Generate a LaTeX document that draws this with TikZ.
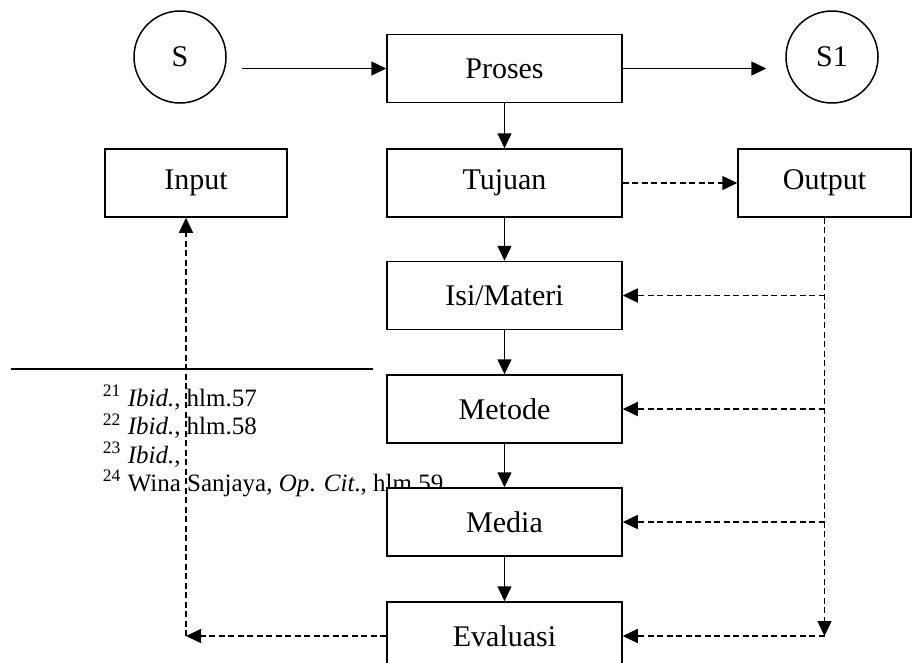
\documentclass[tikz,border=0pt]{standalone}
\usepackage{fontspec}
\setmainfont{Liberation Serif}
\usetikzlibrary{arrows.meta}

\begin{document}
\begin{tikzpicture}[x=0.4pt,y=-0.4pt,line width=0.6pt,
  kotak/.style={draw,fill=white,minimum width=94pt,minimum height=27.2pt,inner sep=0pt,font=\fontsize{12pt}{14pt}\selectfont},
  bulat/.style={draw,circle,minimum size=36.8pt,inner sep=0pt,font=\fontsize{12pt}{14pt}\selectfont},
  panah/.style={-{Triangle[length=6pt,width=5.6pt]}},
  putus/.style={dash pattern=on 2.4pt off 1.4pt},
  catatan/.style={anchor=base west,inner sep=0pt,font=\fontsize{10pt}{12pt}\selectfont}]
\useasboundingbox (0,0) rectangle (913,662);
\clip (0,0) rectangle (913,662);

% catatan kaki
\draw[line width=0.7pt] (11,369) -- (373,369);
\node[catatan] (fn21) at (102,406) {\textsuperscript{21} \textit{Ibid.}, hlm.57};
\node[catatan] (fn22) at (102,434.5) {\textsuperscript{22} \textit{Ibid.}, hlm.58};
\node[catatan] (fn23) at (102,463) {\textsuperscript{23} \textit{Ibid.},};
\node[catatan] (fn24) at (102,491) {\textsuperscript{24} Wina Sanjaya, \textit{Op}. \textit{Cit}., hlm.59};

\node[bulat] (S) at (180,57) {S};
\node[bulat] (S1) at (832,57) {S1};

\node[kotak] (Proses) at (504.5,68.5) {Proses};
\node[kotak] (Tujuan) at (504.5,183) {Tujuan};
\node[kotak] (Isi) at (504.5,295.5) {Isi/Materi};
\node[kotak] (Metode) at (504.5,409) {Metode};
\node[kotak] (Media) at (504.5,522) {Media};
\node[kotak] (Evaluasi) at (504.5,636) {Evaluasi};

\node[kotak,minimum width=72.8pt] (Input) at (196,183) {Input};
\node[kotak,minimum width=69.2pt] (Output) at (824.5,183) {Output};

\path (S.east |- Proses.west) ++(6pt,0) coordinate (keluarS);
\path (S1.west |- Proses.east) ++(-7.6pt,0) coordinate (masukS1);
\path (Input.south) ++(-4pt,0) coordinate (balik);

\draw[panah] (keluarS) -- (Proses.west);
\draw[panah] (Proses.east) -- (masukS1);
\foreach \a/\b in {Proses/Tujuan,Tujuan/Isi,Isi/Metode,Metode/Media,Media/Evaluasi}
  \draw[panah] (\a) -- (\b);

\draw[putus,panah] (Tujuan.east) -- (Output.west);
\draw[putus,panah] (Output.south) -- (Output.south |- Evaluasi.east);
\foreach \k in {Isi,Metode,Media,Evaluasi}
  \draw[putus,panah] (Output.south |- \k.east) -- (\k.east);

\draw[putus,panah] (Evaluasi.west) -- (Evaluasi.west -| balik);
\draw[putus,panah] (Evaluasi.west -| balik) -- (balik);
\end{tikzpicture}
\end{document}
